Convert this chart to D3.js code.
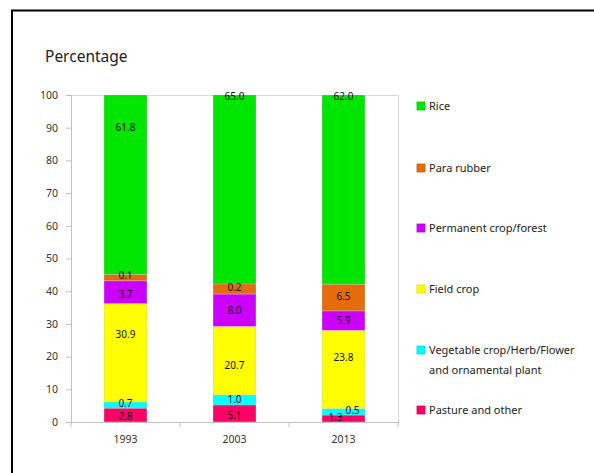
<!DOCTYPE html>
<html>
<head>
<meta charset="utf-8">
<script src="https://cdn.jsdelivr.net/npm/d3@7"></script>
<style>
  body { margin: 0; background: #fff; }
  #chart { width: 594px; height: 473px; }
  text { font-family: "Noto Sans", "Open Sans", sans-serif; }
</style>
</head>
<body>
<div id="chart"><svg width="594" height="473"></svg></div>
<script>
// data
var years = ["1993", "2003", "2013"];
var series = ["Pasture and other", "Vegetable crop/Herb/Flower and ornamental plant",
              "Field crop", "Permanent crop/forest", "Para rubber", "Rice"];
// drawn segment heights (bottom to top)
var pasture = [4.2, 5.2, 2.1];
var vegetable = [1.9, 3.1, 2.0];
var fieldCrop = [30.1, 20.9, 23.9];
var permanent = [7.0, 9.9, 6.0];
var rubber = [1.9, 3.1, 8.1];
var rice = [54.9, 57.8, 57.9];
// printed labels
var pastureLab = ["2.8", "5.1", "1.3"];
var vegetableLab = ["0.7", "1.0", "0.5"];
var fieldLab = ["30.9", "20.7", "23.8"];
var permanentLab = ["3.7", "8.0", "5.9"];
var rubberLab = ["0.1", "0.2", "6.5"];
var riceLab = ["61.8", "65.0", "62.0"];
var yTicks = [0, 10, 20, 30, 40, 50, 60, 70, 80, 90, 100];

var colors = ["#ff0066", "#00ffff", "#ffff00", "#cc00ff", "#e46c0a", "#00e600"];
var legendOrder = ["Rice", "Para rubber", "Permanent crop/forest", "Field crop",
                   "Vegetable crop/Herb/Flower and ornamental plant", "Pasture and other"];
// label nudges in px (per year, per series bottom->top), manual positions in original
var nudge = [
  [[0, 1], [0, -2], [0, -18], [0, 2], [0, -2], [0, -57]],
  [[0, 2], [0, 0], [0, 5], [0, 0], [0, -2], [0, -93]],
  [[-8, -1], [9, -1], [0, -12], [0, 0], [0, -1], [0, -93]]
];

var values = [pasture, vegetable, fieldCrop, permanent, rubber, rice];
var labels = [pastureLab, vegetableLab, fieldLab, permanentLab, rubberLab, riceLab];

var table = years.map(function(y, i) {
  var row = {year: y};
  series.forEach(function(s, j) { row[s] = values[j][i]; });
  return row;
});

var svg = d3.select("#chart svg");

// outer frame
svg.append("rect")
  .attr("x", 12).attr("y", 10.5)
  .attr("width", 640).attr("height", 520)
  .attr("fill", "none").attr("stroke", "#000").attr("stroke-width", 2);

svg.append("text")
  .attr("x", 45).attr("y", 62)
  .attr("font-size", "15.5px").attr("fill", "#222")
  .text("Percentage");

var margin = {left: 71, top: 95, right: 398, bottom: 422};

var x = d3.scaleBand().domain(years).range([margin.left, margin.right]).paddingInner(0).paddingOuter(0);
var y = d3.scaleLinear().domain([0, 100]).range([margin.bottom, margin.top]);

// plot area border
svg.append("path")
  .attr("d", "M" + margin.left + "," + (margin.top + 0.5) + "H" + (margin.right + 0.5) + "V" + margin.bottom)
  .attr("fill", "none").attr("stroke", "#d9d9d9");

var stack = d3.stack().keys(series)(table);
var barW = 43;

var groups = svg.append("g").selectAll("g")
  .data(stack)
  .join("g")
  .attr("fill", function(d, i) { return colors[i]; })
  .attr("stroke", function(d, i) { return d3.color(colors[i]).darker(0.35); })
  .attr("stroke-opacity", 0.6);

groups.selectAll("rect")
  .data(function(d) { return d; })
  .join("rect")
  .attr("x", function(d) { return x(d.data.year) + (x.bandwidth() - barW) / 2 + 0.5; })
  .attr("y", function(d) { return y(d[1]) + 0.5; })
  .attr("width", barW - 1)
  .attr("height", function(d) { return Math.max(0, y(d[0]) - y(d[1]) - 1); });

// value labels
stack.forEach(function(layer, j) {
  layer.forEach(function(d, i) {
    var cy = (y(d[0]) + y(d[1])) / 2 + nudge[i][j][1];
    var cx = x(d.data.year) + x.bandwidth() / 2 + nudge[i][j][0];
    svg.append("text")
      .attr("x", cx).attr("y", cy)
      .attr("dy", "0.35em")
      .attr("text-anchor", "middle")
      .attr("font-family", "DejaVu Sans, sans-serif")
      .attr("font-size", "10px")
      .attr("fill", "#111")
      .text(labels[j][i]);
  });
});

// y axis
var yAxis = svg.append("g")
  .attr("transform", "translate(" + margin.left + ",0)")
  .call(d3.axisLeft(y).tickValues(yTicks).tickSize(5).tickPadding(8));
yAxis.select(".domain").attr("stroke", "#bfbfbf");
yAxis.selectAll(".tick line").attr("stroke", "#bfbfbf");
yAxis.selectAll("text")
  .attr("font-family", "DejaVu Sans, sans-serif")
  .attr("font-size", "10.5px").attr("fill", "#333");

// x axis
var xAxis = svg.append("g")
  .attr("transform", "translate(0," + margin.bottom + ")")
  .call(d3.axisBottom(x).tickSize(0).tickPadding(14));
xAxis.select(".domain").attr("stroke", "#bfbfbf");
xAxis.selectAll("text")
  .attr("font-family", "DejaVu Sans, sans-serif")
  .attr("font-size", "10.5px").attr("fill", "#333");
xAxis.selectAll(".sep")
  .data(d3.range(years.length + 1))
  .join("line")
  .attr("class", "sep")
  .attr("x1", function(i) { return margin.left + i * x.bandwidth(); })
  .attr("x2", function(i) { return margin.left + i * x.bandwidth(); })
  .attr("y1", 0).attr("y2", 5)
  .attr("stroke", "#bfbfbf");

// legend
var legendY = [106, 168, 228, 289, 350, 410];
var legend = svg.append("g").selectAll("g")
  .data(legendOrder)
  .join("g")
  .attr("transform", function(d, i) { return "translate(417," + legendY[i] + ")"; });

legend.append("rect")
  .attr("x", 0).attr("y", -4)
  .attr("width", 8).attr("height", 8)
  .attr("fill", function(d) { return colors[series.indexOf(d)]; })
  .attr("stroke", function(d) { return d3.color(colors[series.indexOf(d)]).darker(0.4); })
  .attr("stroke-width", 0.8);

legend.append("text")
  .attr("x", 12).attr("y", 0)
  .attr("dy", "0.35em")
  .attr("font-size", "11px")
  .attr("fill", "#222")
  .each(function(d) {
    var t = d3.select(this);
    if (d.indexOf("ornamental") >= 0) {
      t.append("tspan").attr("x", 12).text("Vegetable crop/Herb/Flower");
      t.append("tspan").attr("x", 12).attr("dy", "20px").text("and ornamental plant");
    } else {
      t.text(d);
    }
  });
</script>
</body>
</html>
